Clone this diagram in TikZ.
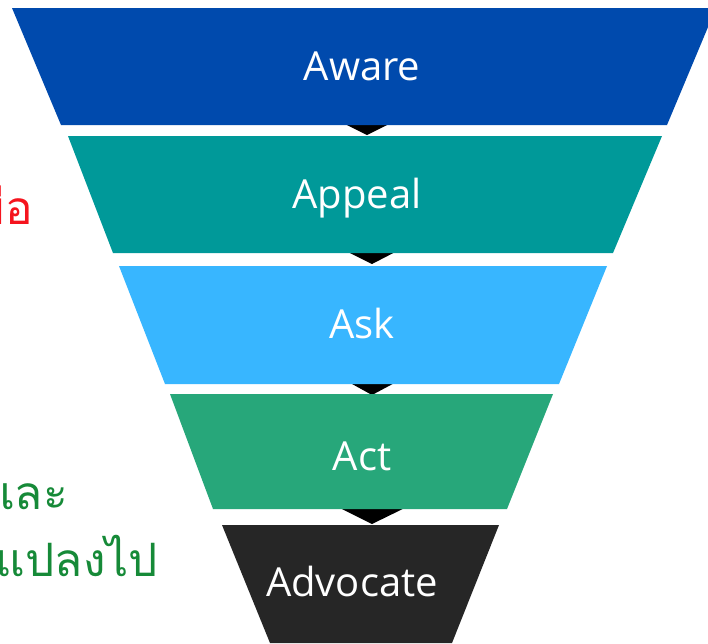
\documentclass[tikz,border=0pt]{standalone}
\usepackage{fontspec}
\setmainfont{Open Sans}
\newfontfamily\thaifont[Script=Thai]{Loma}
\definecolor{cAware}{HTML}{004AAD}
\definecolor{cAppeal}{HTML}{009999}
\definecolor{cAsk}{HTML}{38B6FF}
\definecolor{cAct}{HTML}{27A77A}
\definecolor{cAdv}{HTML}{262626}
\definecolor{cRed}{HTML}{F5141E}
\definecolor{cGreen}{HTML}{168A38}
\tikzset{
  layer/.style={draw=none},
  label/.style={text=white, font=\fontsize{40}{46}\selectfont, inner sep=0pt, anchor=base},
  chev/.style={fill=black, draw=none},
  thai/.style={font=\thaifont\fontsize{46}{54}\selectfont, inner sep=0pt, anchor=base east}
}
\begin{document}
\begin{tikzpicture}[x=1pt, y=-1pt]
\useasboundingbox (0,0) rectangle (708,643);
\clip (0,0) rectangle (708,643);
\fill[white] (0,0) rectangle (708,643);
% chevrons (behind layers)
\fill[chev] (337,120) -- (397,120) -- (367,135) -- cycle;
\fill[chev] (340,248) -- (403,248) -- (372,264) -- cycle;
\fill[chev] (343,379) -- (402,379) -- (372,395) -- cycle;
\fill[chev] (330,503) -- (415,503) -- (372,524) -- cycle;
% layers
\fill[cAware]  (12,8) -- (716,8) -- (667,125) -- (61,125) -- cycle;
\fill[cAppeal] (68,136) -- (662,136) -- (613,253) -- (113,253) -- cycle;
\fill[cAsk]    (119,266) -- (607,266) -- (559,384) -- (165,384) -- cycle;
\fill[cAct]    (170,394) -- (553,394) -- (507,509) -- (213,509) -- cycle;
\fill[cAdv]    (222,525) -- (499,525) -- (452,643) -- (270,643) -- cycle;
% labels
\node[label] (aware) at (362,80) {Aware};
\node[label] (appeal) at (357,208) {Appeal};
\node[label] (ask) at (362,338) {Ask};
\node[label] (act) at (362,470) {Act};
\node[label] (advocate) at (352,596) {Advocate};
% partial Thai side texts
\node[thai, text=cRed] (redtxt) at (33,224) {เพื่อ};
\node[thai, text=cGreen] (green1) at (68,509) {และ};
\node[thai, text=cGreen] (green2) at (158,576) {นแปลงไป};
\end{tikzpicture}
\end{document}
